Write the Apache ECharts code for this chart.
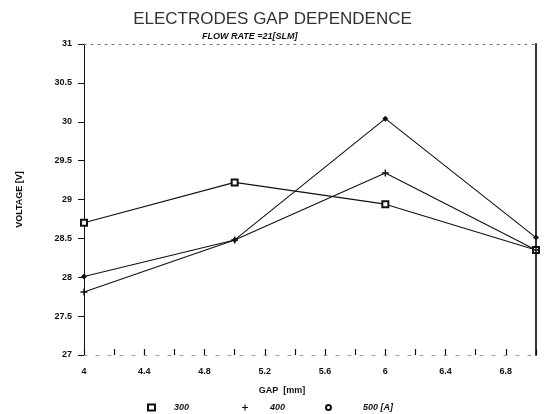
<!DOCTYPE html>
<html>
<head>
<meta charset="utf-8">
<script src="https://cdn.jsdelivr.net/npm/echarts@6/dist/echarts.min.js"></script>
<style>html,body{margin:0;padding:0;background:#fff;}#c{width:545px;height:414px;}</style>
</head>
<body>
<div id="c"></div>
<script>
// Data
var gapMm = [4, 5, 6, 7];
var v300 = [28.70, 29.22, 28.94, 28.35];
var v400 = [27.81, 28.48, 29.34, 28.35];
var v500 = [28.01, 28.48, 30.04, 28.51];
var seriesNames = ['300', '400', '500 [A]'];
var titleText = 'ELECTRODES GAP DEPENDENCE';
var subText = 'FLOW RATE =21[SLM]';
var xName = 'GAP  [mm]';
var yName = 'VOLTAGE [V]';

function pairs(xs, ys) { return xs.map(function (x, i) { return [x, ys[i]]; }); }

var plusPath = 'path://M4,0H6V4H10V6H6V10H4V6H0V4H4Z';
var fontBase = 'Liberation Sans';
var legendText = { fontFamily: fontBase, fontSize: 9, fontStyle: 'italic', fontWeight: 'bold', color: '#111' };

var chart = echarts.init(document.getElementById('c'));
chart.setOption({
  animation: false,
  backgroundColor: '#fff',
  title: [
    { text: titleText, left: 'center', top: 6, textStyle: { fontFamily: fontBase, fontSize: 17, fontWeight: 'normal', color: '#333' } },
    { text: subText, left: 197, top: 27, textStyle: { fontFamily: fontBase, fontSize: 9, fontWeight: 'bold', fontStyle: 'italic', color: '#111' } }
  ],
  grid: { left: 84, right: 9, top: 44, bottom: 59 },
  legend: [
    { data: [{ name: seriesNames[0], icon: 'emptyRect' }], left: 142, top: 398, itemWidth: 7, itemHeight: 6, textStyle: Object.assign({ padding: [0, 0, 0, 14] }, legendText) },
    { data: [{ name: seriesNames[1], icon: plusPath }], left: 237, top: 398, itemWidth: 6, itemHeight: 6, textStyle: Object.assign({ padding: [0, 0, 0, 17] }, legendText) },
    { data: [{ name: seriesNames[2], icon: 'emptyCircle' }], left: 320, top: 398, itemWidth: 5, itemHeight: 5, textStyle: Object.assign({ padding: [0, 0, 0, 27] }, legendText) }
  ],
  xAxis: [
    {
      type: 'value', min: 4, max: 7, interval: 0.2,
      name: xName, nameLocation: 'middle', nameGap: 31,
      nameTextStyle: { fontFamily: fontBase, fontSize: 9, fontWeight: 'bold', color: '#111', padding: [0, 56, 0, 0] },
      axisLine: { show: true, lineStyle: { color: '#999', width: 1, type: [3, 9] } },
      axisTick: { show: true, inside: true, length: 6, lineStyle: { color: '#111', width: 1.2 } },
      splitLine: { show: false },
      showMaxLabel: false,
      axisLabel: {
        margin: 12, fontFamily: fontBase, fontSize: 9, fontWeight: 'bold', color: '#111',
        formatter: function (v) {
          var k = Math.round((v - 4) / 0.2);
          if (k % 2 !== 0 || v >= 7) return '';
          return String(Math.round(v * 10) / 10);
        }
      }
    },
    {
      type: 'value', min: 4, max: 7, position: 'top',
      axisLine: { show: true, lineStyle: { color: '#777', width: 1, type: [2, 5] } },
      axisTick: { show: false }, axisLabel: { show: false }, splitLine: { show: false }
    }
  ],
  yAxis: [
    {
      type: 'value', min: 27, max: 31, interval: 0.5,
      name: yName, nameLocation: 'middle', nameGap: 60,
      nameTextStyle: { fontFamily: fontBase, fontSize: 9, fontWeight: 'bold', color: '#111' },
      axisLine: { show: true, lineStyle: { color: '#111', width: 1 } },
      axisTick: { show: true, length: 6, lineStyle: { color: '#111', width: 1 } },
      splitLine: { show: false },
      axisLabel: { margin: 12, fontFamily: fontBase, fontSize: 9, fontWeight: 'bold', color: '#111',
        formatter: function (v) { return String(Math.round(v * 10) / 10); } }
    },
    {
      type: 'value', min: 27, max: 31, position: 'right',
      axisLine: { show: true, lineStyle: { color: '#333', width: 2 } },
      axisTick: { show: false }, axisLabel: { show: false }, splitLine: { show: false }
    }
  ],
  series: [
    { name: seriesNames[0], type: 'line', data: pairs(gapMm, v300), symbol: 'emptyRect', symbolSize: 6,
      itemStyle: { color: '#111', borderWidth: 1.2 }, lineStyle: { color: '#111', width: 1.1 } },
    { name: seriesNames[1], type: 'line', data: pairs(gapMm, v400), symbol: plusPath, symbolSize: 7,
      itemStyle: { color: '#111' }, lineStyle: { color: '#111', width: 1.1 } },
    { name: seriesNames[2], type: 'line', data: pairs(gapMm, v500), symbol: 'diamond', symbolSize: 6,
      itemStyle: { color: '#111' }, lineStyle: { color: '#111', width: 1.1 } }
  ]
});
</script>
</body>
</html>
